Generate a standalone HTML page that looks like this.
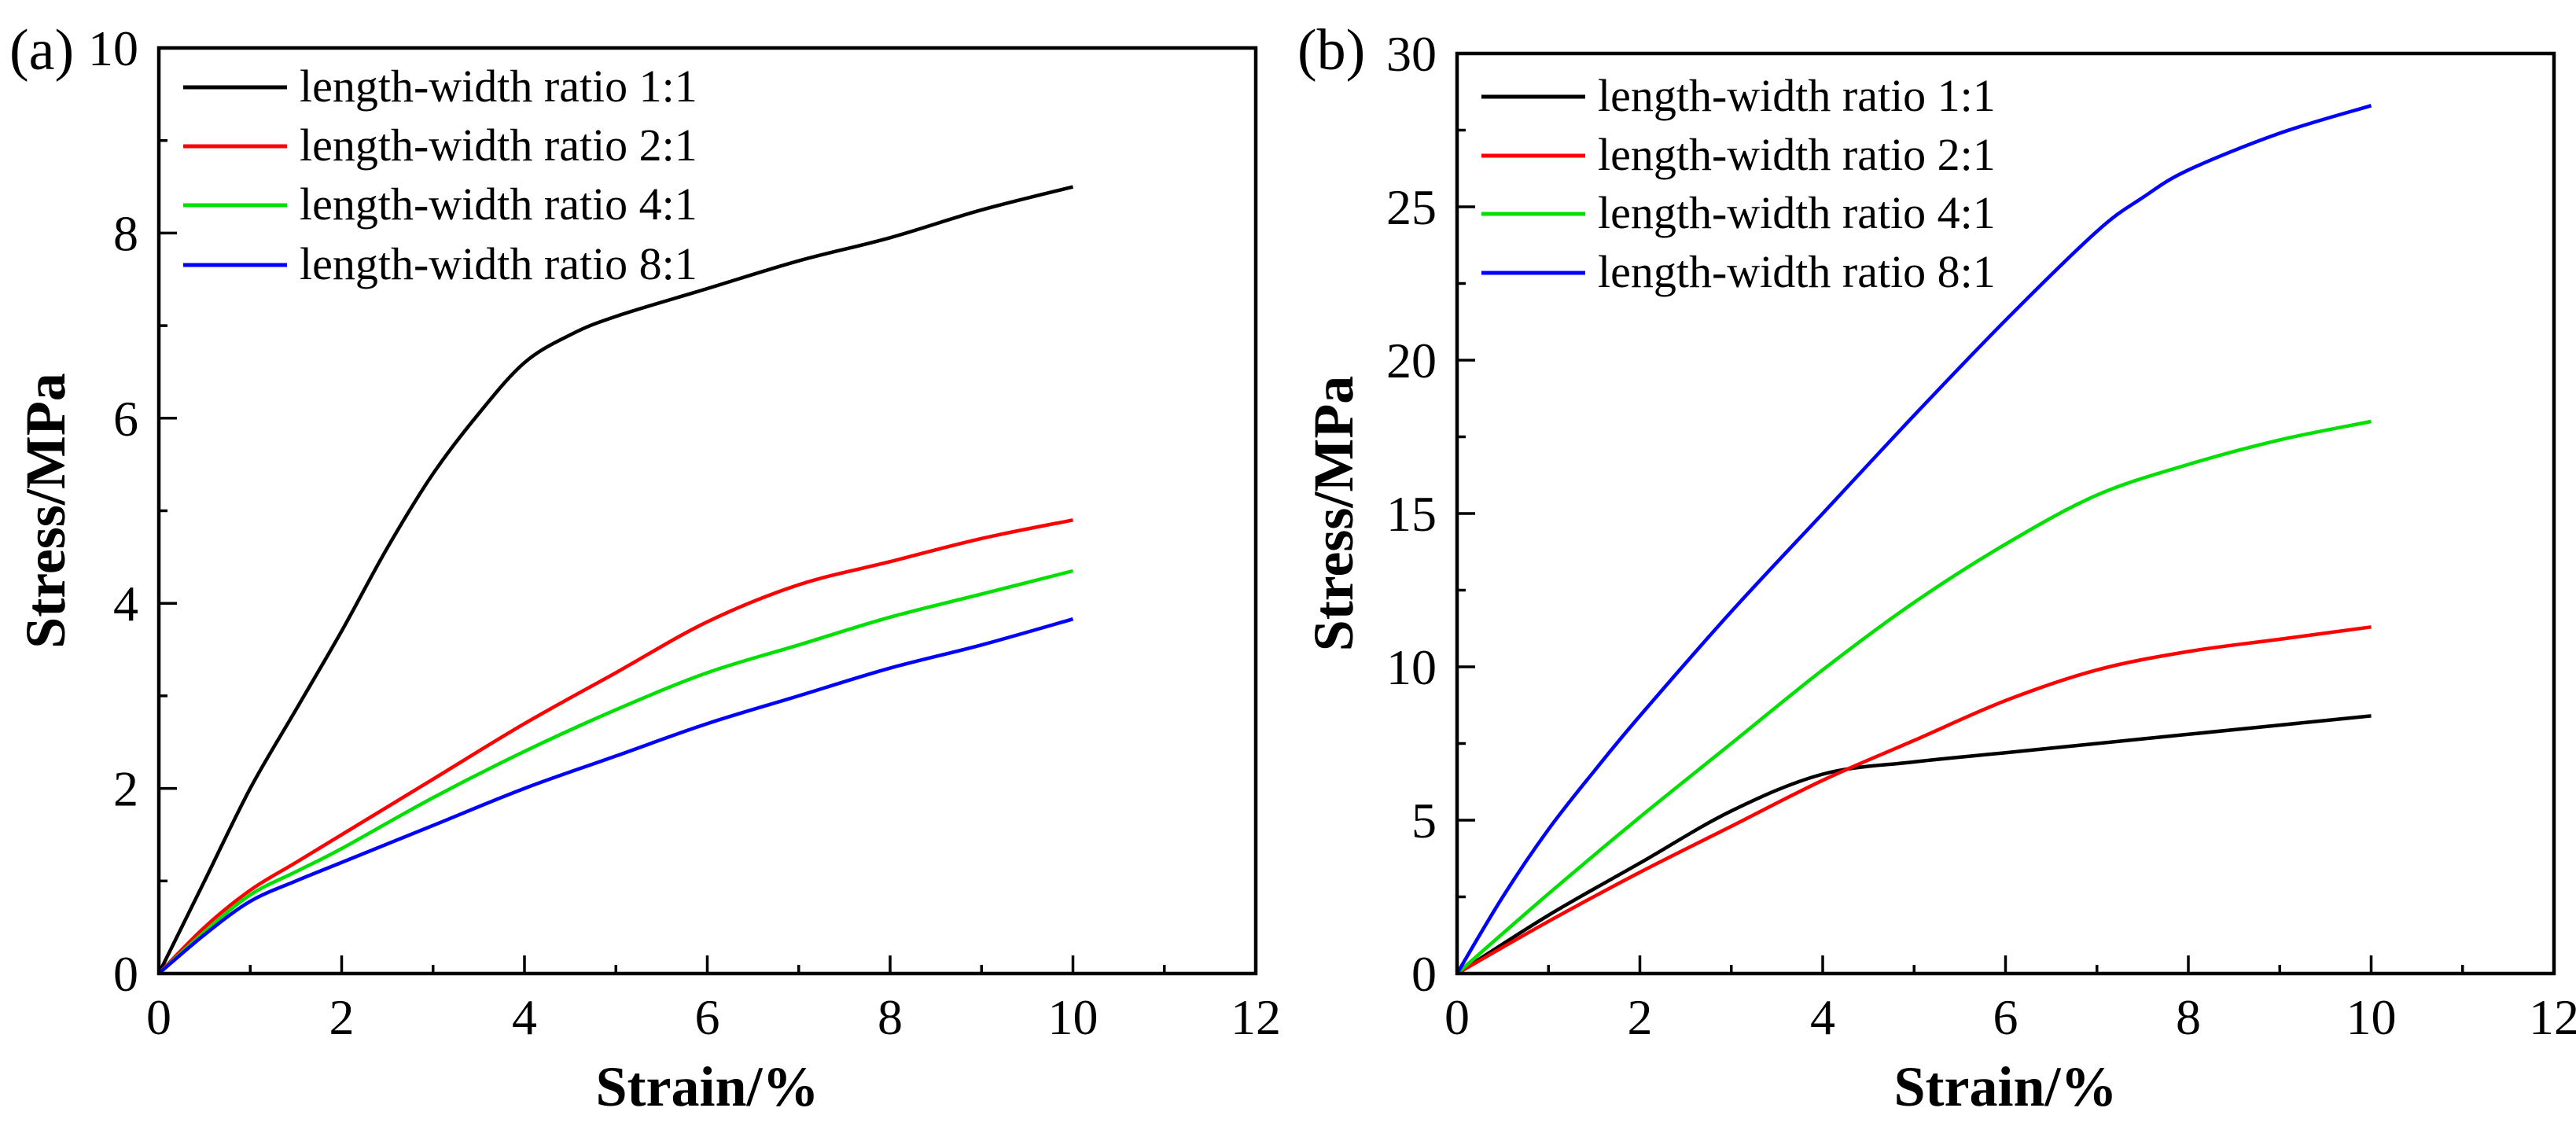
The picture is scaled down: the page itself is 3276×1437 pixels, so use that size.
<!DOCTYPE html>
<html><head><meta charset="utf-8"><style>
html,body{margin:0;padding:0;background:#fff}
svg{display:block}
text{font-family:"Liberation Serif","Times New Roman",serif;fill:#000}
</style></head><body>
<svg id="chart" width="3276" height="1437" viewBox="0 0 3276 1437" xmlns="http://www.w3.org/2000/svg"></svg>
<script>
// ---- data ----
const seriesNames = ["length-width ratio 1:1","length-width ratio 2:1","length-width ratio 4:1","length-width ratio 8:1"];
const seriesColors = ["#000000","#ff0000","#00e000","#0000ff"];
const xTicks = [0,2,4,6,8,10,12];
const yTicksA = [0,2,4,6,8,10];
const yTicksB = [0,5,10,15,20,25,30];
// panel a
const aBlackX = [0,0.5,1,1.5,2,2.5,3,3.5,4,4.5,5,6,7,8,9,10];
const aBlackY = [0,1.0,2.0,2.85,3.7,4.6,5.4,6.05,6.6,6.9,7.1,7.4,7.7,7.95,8.25,8.5];
const aRedX = [0,0.5,1,1.5,2,3,4,5,6,7,8,9,10];
const aRedY = [0,0.5,0.9,1.2,1.5,2.1,2.7,3.25,3.8,4.2,4.45,4.7,4.9];
const aGreenX = [0,0.5,1,1.5,2,3,4,5,6,7,8,9,10];
const aGreenY = [0,0.45,0.85,1.1,1.35,1.9,2.4,2.85,3.25,3.55,3.85,4.1,4.35];
const aBlueX = [0,0.5,1,1.5,2,3,4,5,6,7,8,9,10];
const aBlueY = [0,0.42,0.78,1.0,1.2,1.6,2.0,2.35,2.7,3.0,3.3,3.55,3.83];
// panel b
const bBlackX = [0,1,2,3,4,5,6,7,8,9,10];
const bBlackY = [0,1.9,3.6,5.3,6.5,6.9,7.2,7.5,7.8,8.1,8.4];
const bRedX = [0,1,2,3,4,5,6,7,8,9,10];
const bRedY = [0,1.7,3.3,4.8,6.3,7.6,8.9,9.9,10.5,10.9,11.3];
const bGreenX = [0,1,2,3,4,5,6,7,8,9,10];
const bGreenY = [0,2.6,5.1,7.5,9.9,12.1,14.0,15.6,16.6,17.4,18.0];
const bBlueX = [0,0.5,1,1.5,2,3,4,5,6,7,7.5,8,9,10];
const bBlueY = [0,2.5,4.7,6.6,8.4,11.8,15.0,18.2,21.3,24.2,25.3,26.2,27.4,28.3];

const NS="http://www.w3.org/2000/svg";
const svg=document.getElementById('chart');
function mk(tag,attrs,parent){const e=document.createElementNS(NS,tag);for(const k in attrs)e.setAttribute(k,attrs[k]);(parent||svg).appendChild(e);return e;}

function smoothPath(pts){
  let d="M"+pts[0][0]+","+pts[0][1];
  for(let i=0;i<pts.length-1;i++){
    const p0=pts[Math.max(0,i-1)],p1=pts[i],p2=pts[i+1],p3=pts[Math.min(pts.length-1,i+2)];
    const c1=[p1[0]+(p2[0]-p0[0])/6,p1[1]+(p2[1]-p0[1])/6];
    const c2=[p2[0]-(p3[0]-p1[0])/6,p2[1]-(p3[1]-p1[1])/6];
    d+=" C"+c1[0]+","+c1[1]+" "+c2[0]+","+c2[1]+" "+p2[0]+","+p2[1];
  }
  return d;
}

function panel(cfg){
  const g=mk('g',{});
  
  
  const L=cfg.left,R=cfg.right,T=cfg.top,B=cfg.bottom;
  const xs=v=>L+(v-0)/(12-0)*(R-L);
  const ymax=cfg.yTicks[cfg.yTicks.length-1];
  const ys=v=>B-v/ymax*(B-T);
  cfg.series.forEach((s,i)=>{
    const pts=s[0].map((x,j)=>[xs(x),ys(s[1][j])]);
    const p=mk('path',{d:smoothPath(pts),fill:'none',stroke:seriesColors[i],'stroke-width':4.5,'stroke-linejoin':'round'},g);
    
    
  });
  const fr=mk('rect',{x:L,y:T,width:R-L,height:B-T,fill:'none',stroke:'#000','stroke-width':4.5},g);
  
  
  for(let v=0;v<=12;v+=1){
    const major=v%2===0;
    mk('line',{x1:xs(v),x2:xs(v),y1:B,y2:B-(major?23:11),stroke:'#000','stroke-width':3.5},g);
  }
  xTicks.forEach(v=>{
    const t=mk('text',{x:xs(v),y:B+77,'font-size':64,'text-anchor':'middle'},g);
    t.textContent=v;
    
    
  });
  const step=cfg.yTicks[1]-cfg.yTicks[0];
  for(let v=0;v<=ymax+1e-9;v+=step/2){
    const major=Math.abs((v/step)-Math.round(v/step))<1e-6;
    mk('line',{x1:L,x2:L+(major?23:11),y1:ys(v),y2:ys(v),stroke:'#000','stroke-width':3.5},g);
  }
  cfg.yTicks.forEach(v=>{
    const t=mk('text',{x:L-26,y:ys(v)+22,'font-size':64,'text-anchor':'end'},g);
    t.textContent=v;
    
    
  });
  const xt=mk('text',{x:(L+R)/2,y:1406,'font-size':72,'font-weight':'bold','text-anchor':'middle'},g);
  xt.textContent='Strain/%';
  
  
  const yx=cfg.ytx, yc=(T+B)/2;
  const yt=mk('text',{x:yx,y:yc,'font-size':72,'font-weight':'bold','text-anchor':'middle',transform:'rotate(-90 '+yx+' '+yc+')'},g);
  yt.textContent='Stress/MPa';
  
  
  const lab=mk('text',{x:cfg.labx,y:88,'font-size':74},g);
  lab.textContent=cfg.label;
  
  
  seriesNames.forEach((n,i)=>{
    const y=cfg.legY[i];
    const le=mk('g',{},g);
    
    
    mk('line',{x1:L+31,x2:L+163,y1:y,y2:y,stroke:seriesColors[i],'stroke-width':5},le);
    const t=mk('text',{x:L+179,y:y+18,'font-size':58},le);
    t.textContent=n;
  });
}

panel({name:'panel-a',left:202,right:1597,top:61,bottom:1238,yTicks:yTicksA,label:'(a)',labx:12,ytx:82,
  legY:[111,186,261,337],
  series:[[aBlackX,aBlackY],[aRedX,aRedY],[aGreenX,aGreenY],[aBlueX,aBlueY]]});
panel({name:'panel-b',left:1853,right:3248,top:68,bottom:1238,yTicks:yTicksB,label:'(b)',labx:1650,ytx:1720,
  legY:[123,198,272,347],
  series:[[bBlackX,bBlackY],[bRedX,bRedY],[bGreenX,bGreenY],[bBlueX,bBlueY]]});
</script>
</body></html>
